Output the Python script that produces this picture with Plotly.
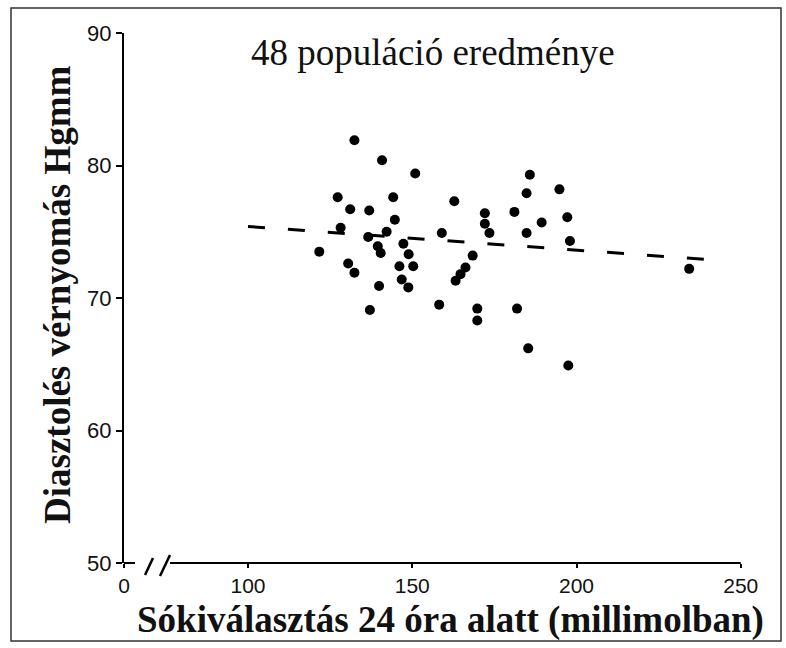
import plotly.graph_objects as go

# ---- data ----
salt_mmol = [132.4, 140.8, 150.9, 185.8, 127.3, 144.2, 184.8, 194.8, 131.1, 136.9,
             162.8, 144.7, 172.1, 172.1, 173.5, 181.1, 189.4, 197.2, 184.8, 198.0,
             128.2, 142.2, 136.6, 159.0, 121.7, 139.5, 140.4, 147.3, 148.9, 130.5,
             132.4, 146.1, 150.3, 168.4, 166.2, 164.7, 163.2, 146.8, 148.8, 139.9,
             158.2, 169.8, 169.8, 181.9, 137.1, 185.3, 197.5, 234.3]
diastolic_mmhg = [81.9, 80.4, 79.4, 79.3, 77.6, 77.6, 77.9, 78.2, 76.7, 76.6,
                  77.3, 75.9, 76.4, 75.6, 74.9, 76.5, 75.7, 76.1, 74.9, 74.3,
                  75.3, 75.0, 74.6, 74.9, 73.5, 73.9, 73.4, 74.1, 73.3, 72.6,
                  71.9, 72.4, 72.4, 73.2, 72.3, 71.8, 71.3, 71.4, 70.8, 70.9,
                  69.5, 69.2, 68.3, 69.2, 69.1, 66.2, 64.9, 72.2]
regression_x = [100, 240]
regression_y = [75.4, 72.9]

x_tick_labels = ["0", "100", "150", "200", "250"]
y_tick_values = [50, 60, 70, 80, 90]

title_text = "48 populáció eredménye"
x_title = "Sókiválasztás 24 óra alatt (millimolban)"
y_title = "Diasztolés vérnyomás Hgmm"

# ---- layout geometry ----
W, H = 786, 648
L, T, B = 124, 33, 85
R = 30
PW, PH = W - L - R, H - T - B
X_PER_UNIT = 3.285
X_MIN = 100 - (248 - L) / X_PER_UNIT       # position labelled "0" (broken axis)
X_MAX = X_MIN + PW / X_PER_UNIT
x_tick_values = [X_MIN, 100, 150, 200, 250]
X_AXIS_START = 100 - (248 - 170) / X_PER_UNIT


def px(xp, yp):
    """pixel position -> paper coordinates"""
    return (xp - L) / PW, (H - B - yp) / PH


fig = go.Figure()
fig.add_trace(go.Scatter(x=regression_x, y=regression_y, mode="lines",
                         line=dict(color="black", width=3, dash="17px,23px"),
                         hoverinfo="skip", showlegend=False))
fig.add_trace(go.Scatter(x=salt_mmol, y=diastolic_mmhg, mode="markers",
                         marker=dict(color="black", size=10),
                         showlegend=False))

shapes = []
# x axis line after the break
shapes.append(dict(type="line", xref="x", yref="paper", x0=X_AXIS_START, x1=250,
                   y0=0, y1=0, line=dict(color="black", width=2)))
# foot of the y axis
fx0, fy = px(L, 563)
fx1, _ = px(135, 563)
shapes.append(dict(type="line", xref="paper", yref="paper", x0=fx0, x1=fx1,
                   y0=fy, y1=fy, line=dict(color="black", width=2)))
# axis break marks "//"
for (a, b), (c, d) in [((145, 575), (153, 558)), ((160, 576), (170, 555))]:
    p0 = px(a, b)
    p1 = px(c, d)
    shapes.append(dict(type="line", xref="paper", yref="paper",
                       x0=p0[0], y0=p0[1], x1=p1[0], y1=p1[1],
                       line=dict(color="black", width=2.5)))
# frame around the picture
b0 = px(11, 641)
b1 = px(781, 8)
shapes.append(dict(type="rect", xref="paper", yref="paper",
                   x0=b0[0], y0=b0[1], x1=b1[0], y1=b1[1],
                   line=dict(color="#333333", width=1.5)))

annotations = []
tx, ty = px(433, 52)
annotations.append(dict(text=title_text, x=tx, y=ty, xref="paper", yref="paper",
                        showarrow=False, xanchor="center", yanchor="middle",
                        font=dict(family="Liberation Serif", size=37, color="#111")))
ax_, ay_ = px(450, 620)
annotations.append(dict(text="<b>" + x_title + "</b>", x=ax_, y=ay_, xref="paper",
                        yref="paper", showarrow=False, xanchor="center",
                        yanchor="middle",
                        font=dict(family="Liberation Serif", size=37, color="#111")))
yx, yy = px(57, 295)
annotations.append(dict(text="<b>" + y_title + "</b>", x=yx, y=yy, xref="paper",
                        yref="paper", showarrow=False, textangle=-90,
                        xanchor="center", yanchor="middle",
                        font=dict(family="Liberation Serif", size=37, color="#111")))

fig.update_layout(
    width=W, height=H,
    margin=dict(l=L, r=R, t=T, b=B, pad=0),
    paper_bgcolor="white", plot_bgcolor="white",
    shapes=shapes, annotations=annotations,
    xaxis=dict(range=[X_MIN, X_MAX], showline=False, showgrid=False, zeroline=False,
               tickmode="array", tickvals=x_tick_values, ticktext=x_tick_labels,
               ticks="outside", ticklen=4, tickwidth=2, tickcolor="black",
               tickfont=dict(family="Liberation Sans", size=21, color="#111")),
    yaxis=dict(range=[50, 90], showline=True, linecolor="black", linewidth=2,
               showgrid=False, zeroline=False, tickmode="array",
               tickvals=y_tick_values, ticks="outside", ticklen=6, tickwidth=2,
               tickcolor="black",
               tickfont=dict(family="Liberation Sans", size=22, color="#111")),
)

fig.write_html("out.html", config={"displayModeBar": False},
               post_script="document.body.style.margin='0';"
                           "document.body.style.overflow='hidden';")
